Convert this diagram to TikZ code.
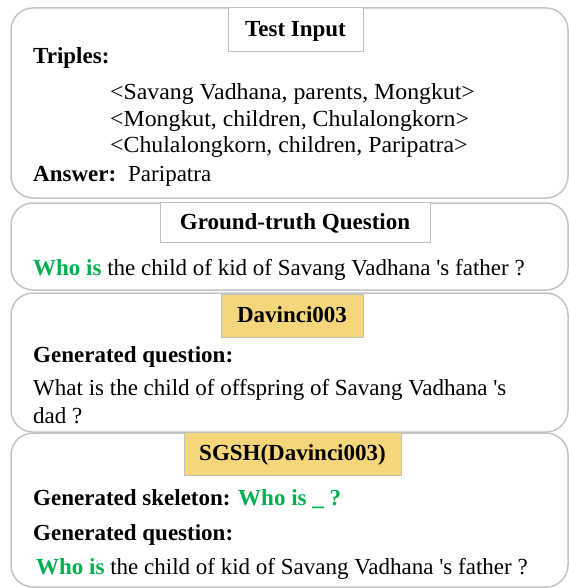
\documentclass[tikz,border=0pt]{standalone}
\usepackage{fontspec}
\setmainfont{Liberation Serif}[Ligatures=TeXOff]
\definecolor{panelgray}{HTML}{C4C4C4}
\definecolor{titlegray}{HTML}{C0C0C0}
\definecolor{gold}{HTML}{F5D67A}
\definecolor{qgreen}{HTML}{00B050}
\begin{document}
\begin{tikzpicture}[x=1pt,y=-1pt,
  panel/.style={draw=panelgray, line width=1.5pt, rounded corners=22pt, fill=white, inner sep=0pt},
  titlebox/.style={draw=titlegray, line width=1pt, fill=white, inner xsep=15pt, inner ysep=0pt,
    font=\fontsize{23}{26}\selectfont\bfseries, text height=17.5pt, text depth=3.5pt},
  goldbox/.style={titlebox, fill=gold},
  txt/.style={anchor=base west, inner sep=0pt, font=\fontsize{23}{26}\selectfont},
  btxt/.style={txt, font=\fontsize{23}{26}\selectfont\bfseries},
  triple/.style={txt, xscale=1.035, transform shape}
]
\useasboundingbox (0,0) rectangle (569,588);
% panels
\node[panel, minimum width=557pt, minimum height=190pt] (p1) at (289.5,103) {};
\node[panel, minimum width=557pt, minimum height=87pt] (p2) at (289.5,246.5) {};
\node[panel, minimum width=557pt, minimum height=139pt] (p3) at (289.5,362.5) {};
\node[panel, minimum width=557pt, minimum height=154pt] (p4) at (289.5,510) {};
% titles
\node[titlebox, minimum width=135pt, minimum height=44pt] (t1) at (295.5,30) {Test Input};
\node[titlebox, minimum width=270pt, minimum height=40pt] (t2) at (295,222) {Ground-truth Question};
\node[goldbox, minimum width=142pt, minimum height=43pt] (t3) at (292,315.5) {Davinci003};
\node[goldbox, minimum width=217pt, minimum height=43pt] (t4) at (292.5,453.5) {SGSH(Davinci003)};
% panel 1
\node[btxt] (triples) at (33,64) {Triples:};
\node[triple] (tr1) at (110,100) {<Savang Vadhana, parents, Mongkut>};
\node[triple] (tr2) at (110,126.5) {<Mongkut, children, Chulalongkorn>};
\node[triple] (tr3) at (110,153) {<Chulalongkorn, children, Paripatra>};
\node[btxt] (ans) at (33,182) {Answer:};
\node[txt] (ansv) at (128,182) {Paripatra};
% panel 2
\node[txt] (gtq) at (33,275) {\textcolor{qgreen}{\bfseries Who is} the child of kid of Savang Vadhana 's father ?};
% panel 3
\node[btxt] (gq1) at (33,362) {Generated question:};
\node[txt] (q1a) at (33,395) {What is the child of offspring of Savang Vadhana 's};
\node[txt] (q1b) at (33,423) {dad ?};
% panel 4
\node[btxt] (sk) at (33,505) {Generated skeleton: \textcolor{qgreen}{Who is \_ ?}};
\node[btxt] (gq2) at (33,540) {Generated question:};
\node[txt] (q2) at (36,574) {\textcolor{qgreen}{\bfseries Who is} the child of kid of Savang Vadhana 's father ?};
\end{tikzpicture}
\end{document}
